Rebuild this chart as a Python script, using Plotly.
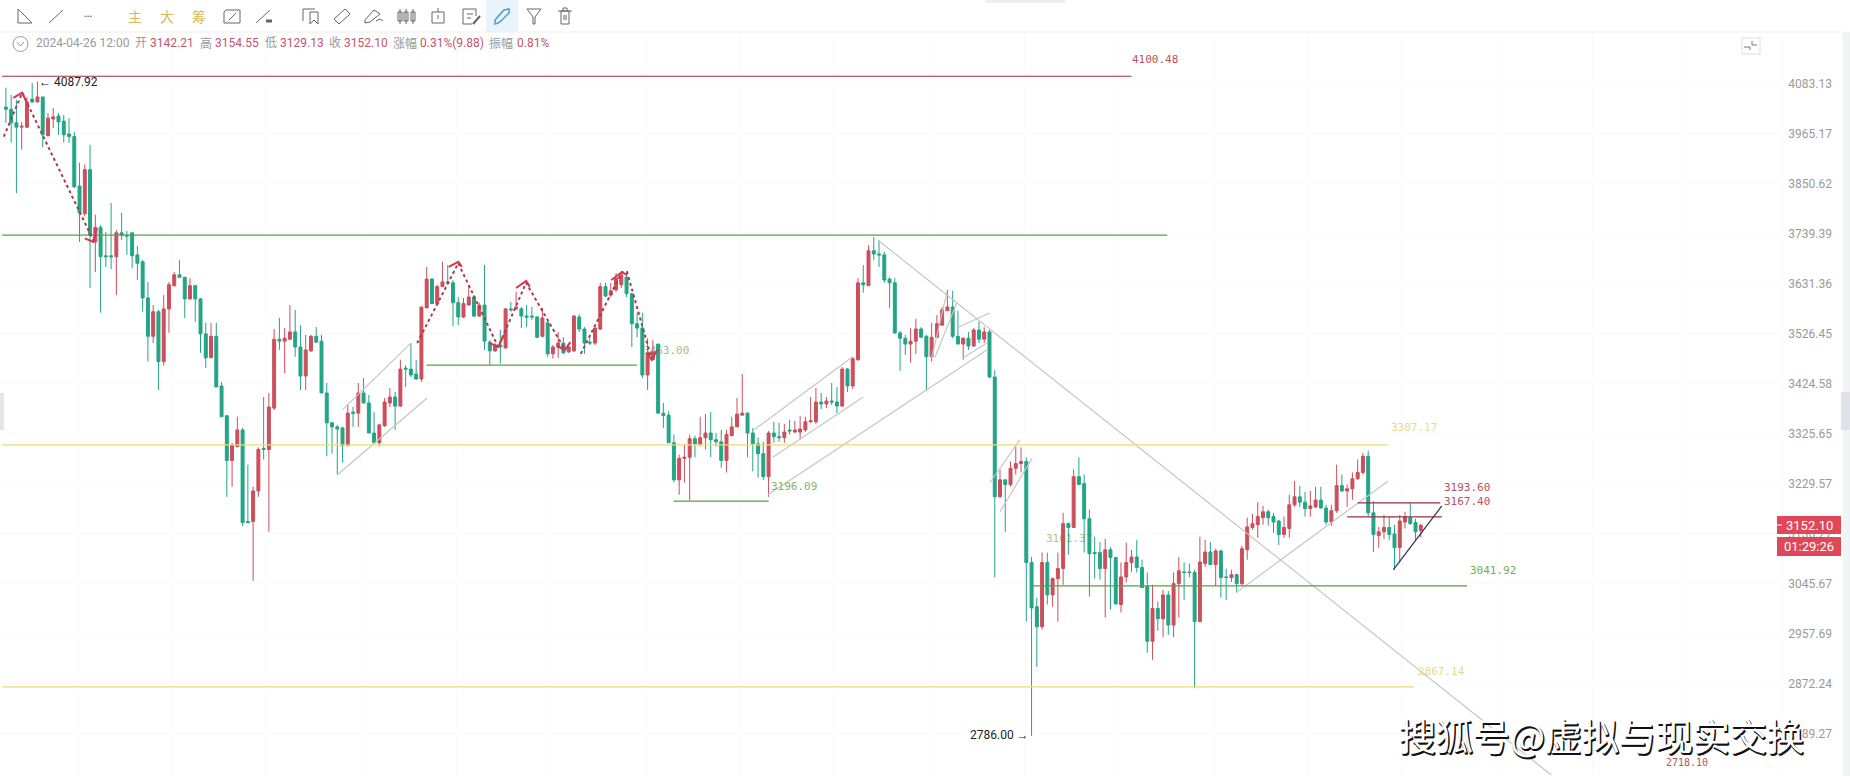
import plotly.graph_objects as go

direction = ("GGGRRGRGRR" "GGGGGRGRGG" "GRGGGGGGRG" "RRRGGRGGGR" "GGGRRGGRRG"
             "RRGRRGGRRG" "GGGGGRGRGG" "GRRRGRGGGR" "RGRRGGGRRG" "RGGRGRGRGG"
             "GGRGRRGRRG" "GGRRGRRRGG" "GGRRGGGGRR" "RGRRGGGRRR" "RGGGGRGGRG"
             "RRRRRGRGGR" "GRRGRGGGGG" "GGRRGGRRRR" "GGRGRGRGGR" "GRRRGGGRGR"
             "RRGRGGGGGR" "GGRRRGGGRG" "RGRRGGGRRG" "RGGRGRRRRR" "GGGRRRGGRR"
             "GGRRGRRRRG" "GRRGGRRGGR")

body_top = [
    4027,4022,3990,3982,4039,4046,4051,4051,4001,4004,
    4006,3994,3964,3958,3845,3882,3882,3753,3753,3691,
    3691,3741,3741,3736,3741,3693,3678,3601,3572,3572,
    3578,3629,3650,3650,3645,3627,3627,3599,3526,3521,
    3521,3420,3361,3303,3333,3333,3159,3216,3295,3297,
    3378,3515,3515,3517,3530,3530,3499,3493,3521,3521,
    3511,3406,3347,3339,3337,3366,3368,3406,3406,3386,
    3327,3343,3388,3398,3398,3454,3456,3454,3444,3582,
    3641,3641,3625,3635,3635,3633,3591,3589,3603,3603,
    3586,3586,3509,3503,3503,3578,3578,3582,3578,3563,
    3563,3561,3559,3549,3499,3507,3507,3499,3563,3561,
    3536,3509,3538,3625,3625,3616,3643,3650,3645,3610,
    3547,3538,3487,3489,3505,3366,3362,3308,3278,3280,
    3316,3316,3318,3327,3327,3314,3310,3324,3339,3364,
    3366,3366,3327,3306,3287,3327,3327,3320,3329,3333,
    3333,3335,3349,3351,3388,3388,3390,3390,3388,3454,
    3454,3475,3633,3633,3702,3702,3695,3693,3641,3633,
    3528,3517,3511,3536,3536,3521,3519,3547,3576,3582,
    3582,3521,3517,3517,3534,3534,3530,3530,3438,3237,
    3237,3259,3268,3272,3272,3084,3005,3084,3084,3055,
    3073,3155,3155,3243,3243,3230,3164,3102,3102,3107,
    3107,3093,3058,3084,3094,3094,3075,3041,3002,3002,
    3026,3026,3046,3069,3067,3067,3066,3085,3103,3103,
    3105,3105,3058,3062,3062,3109,3149,3155,3168,3177,
    3177,3168,3160,3148,3190,3205,3205,3195,3188,3199,
    3199,3184,3179,3226,3226,3220,3239,3251,3282,3282,
    3175,3140,3148,3148,3136,3160,3168,3166,3157,3152.10]

body_bottom = [
    4022,3990,3980,3980,3980,4039,4039,3962,3960,3999,
    3992,3962,3958,3843,3785,3783,3736,3721,3689,3689,
    3689,3689,3736,3734,3691,3675,3601,3521,3521,3469,
    3469,3578,3627,3645,3599,3599,3599,3526,3477,3477,
    3418,3359,3274,3274,3301,3157,3157,3159,3216,3295,
    3295,3376,3511,3511,3515,3499,3440,3440,3491,3509,
    3406,3347,3339,3335,3303,3303,3366,3366,3386,3327,
    3308,3308,3341,3386,3380,3380,3454,3442,3434,3434,
    3580,3589,3589,3625,3633,3591,3561,3561,3586,3563,
    3563,3511,3491,3491,3499,3497,3576,3578,3563,3561,
    3561,3519,3521,3485,3485,3499,3487,3489,3491,3536,
    3507,3507,3507,3536,3605,3607,3618,3629,3610,3547,
    3538,3442,3442,3473,3366,3361,3308,3237,3237,3278,
    3280,3306,3305,3318,3314,3310,3274,3274,3322,3339,
    3362,3327,3306,3287,3243,3243,3320,3318,3318,3331,
    3329,3329,3333,3349,3349,3384,3384,3388,3380,3380,
    3420,3420,3473,3629,3627,3695,3693,3639,3633,3528,
    3517,3505,3505,3511,3519,3479,3479,3519,3544,3574,
    3521,3505,3505,3501,3501,3515,3515,3438,3205,3205,
    3228,3228,3259,3268,3084,3003,2970,2970,3026,3026,
    3055,3073,3148,3148,3228,3164,3100,3100,3073,3073,
    3093,3010,3009,3058,3084,3075,3039,2945,2945,2984,
    2984,2973,2973,3046,3066,3066,2979,2979,3082,3080,
    3080,3057,3057,3057,3046,3046,3107,3148,3153,3166,
    3166,3158,3135,3135,3146,3190,3195,3183,3183,3186,
    3184,3158,3158,3179,3216,3216,3220,3239,3251,3175,
    3135,3133,3140,3135,3111,3111,3158,3155,3140,3142.21]

highs = [
    4073,4056,4044,3992,4051,4084,4087.92,4051,4013,4025,
    4013,4008,4001,3969,3898,3894,3939,3781,3758,3743,
    3807,3747,3785,3745,3741,3712,3682,3635,3586,3576,
    3607,3635,3656,3682,3645,3643,3629,3601,3549,3549,
    3549,3428,3361,3308,3359,3337,3266,3224,3299,3398,
    3406,3536,3559,3538,3586,3576,3544,3524,3524,3540,
    3524,3426,3349,3343,3339,3382,3378,3426,3436,3402,
    3368,3343,3396,3416,3408,3473,3462,3507,3473,3582,
    3667,3643,3629,3678,3671,3639,3603,3601,3629,3607,
    3591,3671,3513,3507,3534,3580,3593,3614,3582,3586,
    3582,3563,3580,3557,3503,3530,3519,3505,3565,3567,
    3540,3517,3540,3633,3633,3633,3654,3654,3656,3610,
    3570,3570,3517,3513,3505,3386,3370,3324,3285,3305,
    3324,3322,3359,3364,3368,3327,3333,3333,3359,3396,
    3444,3368,3337,3318,3310,3331,3349,3347,3345,3353,
    3351,3361,3359,3398,3416,3406,3398,3426,3418,3458,
    3456,3479,3643,3671,3714,3732,3725,3700,3645,3643,
    3532,3524,3538,3557,3540,3524,3549,3565,3582,3618,
    3616,3574,3519,3530,3538,3551,3540,3534,3452,3257,
    3237,3272,3301,3299,3280,3094,3021,3102,3102,3057,
    3102,3175,3157,3257,3280,3247,3181,3131,3121,3127,
    3112,3094,3084,3120,3107,3125,3089,3066,3044,3014,
    3035,3033,3066,3094,3084,3082,3071,3131,3125,3121,
    3109,3107,3073,3071,3064,3114,3166,3173,3195,3188,
    3181,3175,3162,3168,3209,3235,3226,3214,3216,3224,
    3224,3190,3190,3266,3247,3228,3251,3276,3289,3293,
    3197,3149,3171,3168,3153,3171,3177,3193,3164,3154.55]

lows = [
    3990,3944,3829,3928,3978,4037,4039,3933,3958,3978,
    3962,3944,3944,3841,3721,3777,3622,3656,3570,3667,
    3662,3607,3725,3693,3664,3639,3572,3469,3507,3412,
    3461,3528,3625,3643,3559,3597,3551,3487,3456,3477,
    3418,3359,3205,3224,3299,3151,3157,3051,3205,3276,
    3140,3372,3493,3446,3513,3479,3412,3412,3489,3507,
    3406,3282,3287,3247,3270,3301,3339,3339,3386,3327,
    3308,3301,3339,3378,3333,3378,3418,3438,3432,3428,
    3580,3589,3586,3625,3629,3542,3544,3559,3586,3561,
    3561,3493,3462,3489,3465,3497,3572,3576,3538,3540,
    3555,3517,3519,3479,3475,3477,3485,3487,3489,3530,
    3485,3503,3503,3534,3603,3603,3614,3622,3603,3499,
    3519,3436,3412,3473,3366,3337,3308,3232,3209,3232,
    3199,3280,3301,3295,3280,3301,3260,3251,3320,3339,
    3362,3280,3253,3241,3237,3205,3308,3310,3308,3324,
    3327,3314,3329,3347,3345,3374,3376,3382,3366,3378,
    3408,3414,3471,3612,3627,3682,3667,3633,3580,3526,
    3450,3483,3467,3485,3519,3410,3469,3519,3544,3574,
    3517,3505,3473,3493,3499,3507,3507,3436,3057,3203,
    3140,3224,3247,3251,2979,2786.00,2901,2965,3009,3005,
    2979,3044,3098,3148,3228,3102,3023,3055,3053,2986,
    3000,3009,2995,3048,3067,3066,3039,2925,2913,2963,
    2952,2956,2952,2986,3017,3057,2865,2979,3076,3080,
    3042,3021,3017,3049,3030,3042,3089,3144,3129,3153,
    3151,3138,3116,3129,3129,3186,3186,3168,3168,3184,
    3183,3153,3151,3175,3214,3186,3199,3237,3247,3168,
    3103,3111,3127,3125,3071,3084,3146,3153,3125,3129.13]

candle_index = list(range(len(direction)))
opens = [b if d == "R" else t for d, t, b in zip(direction, body_top, body_bottom)]
closes = [t if d == "R" else b for d, t, b in zip(direction, body_top, body_bottom)]

tick_values = [4083.13, 3965.17, 3850.62, 3739.39, 3631.36, 3526.45, 3424.58,
               3325.65, 3229.57, 3136.27, 3045.67, 2957.69, 2872.24, 2789.27]
tick_labels = ["4083.13", "3965.17", "3850.62", "3739.39", "3631.36", "3526.45", "3424.58",
               "3325.65", "3229.57", "3136.27", "3045.67", "2957.69", "2872.24", "2789.27"]

# drawn levels: value, first candle, last candle
red_levels = [(4100.48, -0.7, 214), (3193.60, 257, 272.7), (3167.40, 255, 273)]
green_levels = [(3736, -0.7, 220.8), (3462, 80, 120), (3197, 126.9, 145), (3041.92, 195.3, 277.8)]
yellow_levels = [(3304, -0.7, 262.8), (2867.14, -0.7, 267.7)]

# drawn grey trend lines as (x0, y0, x1, y1) in candle index and price
grey_segments = [
    (165.8, 3725, 293.8, 2723), (63.1, 3247, 80.1, 3396), (64.1, 3374, 77, 3507),
    (142.2, 3333, 161, 3479), (145.8, 3280, 163, 3398), (144.9, 3209, 186.5, 3493),
    (176, 3477, 178.9, 3612), (176.6, 3477, 180.8, 3591), (180.8, 3538, 187.1, 3570),
    (182, 3477, 186.5, 3507), (187.1, 3232, 192.8, 3314), (189, 3177, 195.1, 3278),
    (233.9, 3030, 262.8, 3235)]
wedge_x = [263.8, 273]
wedge_y = [3071, 3188]
dot_a_x = [-0.4, 3.1, 16.6]
dot_a_y = [3958, 4061, 3725]
dot_b_x = [78.2, 86, 93.6, 98.9, 106.3, None, 109.3, 117.1, 118.1, 122.8]
dot_b_y = [3507, 3675, 3499, 3633, 3493, None, 3485, 3656, 3656, 3473]
head_x = [1.4, 3.1, 4, None, 15, 16.6, 17.3, None, 84.2, 86, 86.7, None, 92, 93.6, 94.7, None,
          97, 98.9, 99.6, None, 104.8, 106.3, 107.3, None, 115.1, 117.1, 118.1, None,
          121.9, 122.8, 123.8]
head_y = [4049, 4061, 4037, None, 3729, 3721, 3751, None, 3667, 3678, 3667, None, 3507, 3499, 3524, None,
          3622, 3637, 3625, None, 3501, 3493, 3509, None, 3639, 3656, 3650, None,
          3487, 3473, 3493]

W, H = 1850, 776
RED, GREEN = "#cb4f5c", "#22a587"
fig = go.Figure()
fig.add_trace(go.Candlestick(
    x=candle_index, open=opens, high=highs, low=lows, close=closes,
    increasing=dict(line=dict(color=RED, width=1), fillcolor=RED),
    decreasing=dict(line=dict(color=GREEN, width=1), fillcolor=GREEN),
    whiskerwidth=0, showlegend=False, hoverinfo="skip"))


def line_trace(xs, ys, color, width=1.2, dash="solid"):
    fig.add_trace(go.Scatter(x=xs, y=ys, mode="lines", showlegend=False, hoverinfo="skip",
                             line=dict(color=color, width=width, dash=dash)))


for s in grey_segments:
    line_trace([s[0], s[2]], [s[1], s[3]], "#c6c6c6")
for v, a, b in green_levels:
    line_trace([a, b], [v, v], "#5c9e3c")
for v, a, b in yellow_levels:
    line_trace([a, b], [v, v], "#e8db78")
for v, a, b in red_levels:
    line_trace([a, b], [v, v], "#9c2f3e")
line_trace(wedge_x, wedge_y, "#2b2f55")
line_trace(dot_a_x, dot_a_y, "#a83a50", 2, "dot")
line_trace(dot_b_x, dot_b_y, "#a83a50", 2, "dot")
line_trace(head_x, head_y, "#d2384f", 2)


def P(x, y):
    return x / W, 1 - y / H


def path(points, color="#666666", close=False, fill=None, width=1):
    d = ""
    for k, (x, y) in enumerate(points):
        px, py = P(x, y)
        d += ("M" if k == 0 else "L") + f"{px:.5f},{py:.5f} "
    if close:
        d += "Z"
    fig.add_shape(type="path", path=d, xref="paper", yref="paper",
                  line=dict(color=color, width=width), fillcolor=fill, layer="above")


def rect(x0, y0, x1, y1, fill=None, color=None, width=1, layer="above"):
    a, b = P(x0, y0)
    c, d = P(x1, y1)
    fig.add_shape(type="rect", x0=a, y0=b, x1=c, y1=d, xref="paper", yref="paper", layer=layer,
                  fillcolor=fill, line=dict(color=color, width=width if color else 0))


notes = []


def txt(x, y, s, color, size=12, family="Roboto", anchor="left", **font):
    px, py = P(x, y)
    notes.append(dict(x=px, y=py, xref="paper", yref="paper", text=s, showarrow=False,
                      xanchor=anchor, yanchor="middle", borderpad=0,
                      font=dict(color=color, size=size, family=family, **font)))


def under_label(x, y, s, color):
    # a label drawn beneath the candles, as the reference has it
    a, b = P(x, y + 8)
    c, d = P(x + 60, y - 8)
    fig.add_shape(type="rect", x0=a, y0=b, x1=c, y1=d, xref="paper", yref="paper", layer="below",
                  line=dict(width=0), fillcolor="rgba(0,0,0,0)",
                  label=dict(text=s, textposition="middle left", padding=0,
                             font=dict(family="DejaVu Sans Mono", size=11, color=color)))


# chrome: borders, side strip, tabs
rect(0, 0, W, 32, fill="#ffffff", layer="above")
path([(0, 32), (1843, 32)], "#eeeeee")
rect(985, 0, 1065, 3, fill="#eeeeee")
rect(1843, 32, W, H, fill="#f1f3f5")
rect(1841, 392, W, 430, fill="#dfe2e8")
rect(0, 393, 4, 430, fill="#e4e6ea")
rect(1742, 38, 1760, 54, color="#dddddd")
path([(1744, 47), (1750, 47), (1750, 50)], "#777777")
path([(1752, 41), (1752, 45), (1757, 45)], "#777777")

# toolbar icons
rect(486, 0, 518, 32, fill="#e8f3fb")
path([(18, 9), (18, 23), (32, 23)], close=True)
path([(49, 23), (63, 10)])
txt(88, 16, "•••", "#666666", 8, anchor="center")
for cx, s in zip([135, 167, 199], ["主", "大", "筹"]):
    txt(cx, 16, s, "#d8b85a", 14, "Noto Sans CJK SC", "center")
path([(226, 10), (240, 10), (240, 23), (224, 23), (224, 12)], close=True)
path([(229, 20), (236, 13)])
path([(256, 23), (270, 10)])
path([(266, 21), (272, 21)], width=3)
path([(303, 21), (303, 9), (315, 9)])
path([(310, 12), (318, 12), (318, 24), (314, 20), (310, 24)], close=True)
path([(334, 19), (345, 9), (350, 14), (339, 24)], close=True)
path([(365, 20), (374, 10), (380, 14), (370, 22), (365, 23)], close=True)
path([(376, 21), (380, 19), (383, 21)])
for a in (400, 406, 413):
    rect(a - 2, 12, a + 2, 21, color="#666666")
    path([(a, 9), (a, 24)])
rect(432, 12, 444, 23, color="#666666")
path([(438, 8), (438, 12)])
path([(438, 15), (438, 19)])
path([(476, 16), (476, 9), (463, 9), (463, 24), (472, 24)])
path([(467, 14), (473, 14)])
path([(467, 18), (471, 18)])
path([(473, 24), (480, 16)], width=2)
path([(496, 19), (504, 10), (509, 9), (509, 13), (501, 21), (498, 23), (495, 24), (495, 20), (502, 12)], "#4a9fd8", width=1.5)
path([(527, 9), (541, 9), (535, 17), (535, 24), (533, 24), (533, 17)], close=True)
path([(558, 11), (572, 11)])
rect(561, 11, 569, 24, color="#666666")
path([(563, 11), (563, 8), (567, 8), (567, 11)])
path([(564, 15), (564, 20)])
path([(566, 15), (566, 20)])

# info row
a, b = P(13, 36.5)
c, d = P(28, 51.5)
fig.add_shape(type="circle", x0=a, y0=b, x1=c, y1=d, xref="paper", yref="paper",
              line=dict(color="#999999", width=1))
path([(17, 42), (20.5, 46), (24, 42)], "#999999")
GREY, PINK = "#9a9a9a", "#c2566d"
for x, s, col in [(35, "2024-04-26 12:00", GREY), (134, "开", GREY), (149, "3142.21", PINK),
                  (199, "高", GREY), (214, "3154.55", PINK), (264, "低", GREY), (279, "3129.13", PINK),
                  (328, "收", GREY), (343, "3152.10", PINK), (392, "涨幅", GREY),
                  (419, "0.31%(9.88)", PINK), (488, "振幅", GREY), (516, "0.81%", PINK)]:
    txt(x, 43, s, col, 12, "Roboto, Noto Sans CJK SC")

# chart labels
MONO = "DejaVu Sans Mono"
txt(1131, 60, "4100.48", "#b9525f", 11, MONO)
txt(1390, 427, "3307.17", "#e6da8e", 11, MONO)
txt(1417, 671, "2867.14", "#e6da8e", 11, MONO)
txt(1469, 570, "3041.92", "#74ad52", 11, MONO)
txt(770, 486, "3196.09", "#86b56a", 11, MONO)
under_label(640, 349, "3463.00", "#9cc282")
under_label(1043, 537, "3161.37", "#b9c08a")
txt(1443, 487, "3193.60", "#b9525f", 11, MONO)
txt(1443, 501, "3167.40", "#b9525f", 11, MONO)
txt(1687, 762, "2718.10", "#b9525f", 10, MONO, "center")
txt(38, 82, "← 4087.92", "#222222", 12)
txt(1030, 735, "2786.00 →", "#222222", 12, anchor="right")

# last price tag
rect(1777, 516, 1841, 534, fill="#e0485a")
rect(1777, 537, 1841, 556, fill="#e0485a")
path([(1777, 525), (1782, 525)], "#ffffff")
txt(1809, 525, "3152.10", "#ffffff", 13, anchor="center")
txt(1809, 546, "01:29:26", "#ffffff", 13, anchor="center")

# watermark, white with a dark edge on its lower right
outline = "1px 1px 0 #111,1.5px 1.5px 0 #111,0.5px 1.5px 0 #333"
txt(1601, 735, "搜狐号@虚拟与现实交换", "#ffffff", 37, "Noto Sans CJK SC", "center", shadow=outline)

fig.update_layout(
    width=W, height=H, autosize=False,
    margin=dict(l=0, r=0, t=0, b=0, pad=0),
    paper_bgcolor="#ffffff", plot_bgcolor="#ffffff",
    showlegend=False, boxgap=0.2, annotations=notes,
    xaxis=dict(domain=[0, 1835 / W], range=[-1.122, 347.75], rangeslider=dict(visible=False),
               showticklabels=False, ticks="", showgrid=True, gridcolor="#fafafb",
               tick0=13.6, dtick=18, zeroline=False, showline=False),
    yaxis=dict(type="log", domain=[0, 1], range=[3.43479, 3.63223], side="right",
               ticklabelposition="inside", tickvals=tick_values, ticktext=tick_labels, ticks="",
               tickfont=dict(family="Roboto", size=12, color="#9a9a9a"),
               showgrid=True, gridcolor="#fafafb", zeroline=False, showline=False),
)

fig.write_html("out.html", config=dict(displayModeBar=False),
               post_script="document.body.style.margin='0';document.body.style.background='#fff';")
